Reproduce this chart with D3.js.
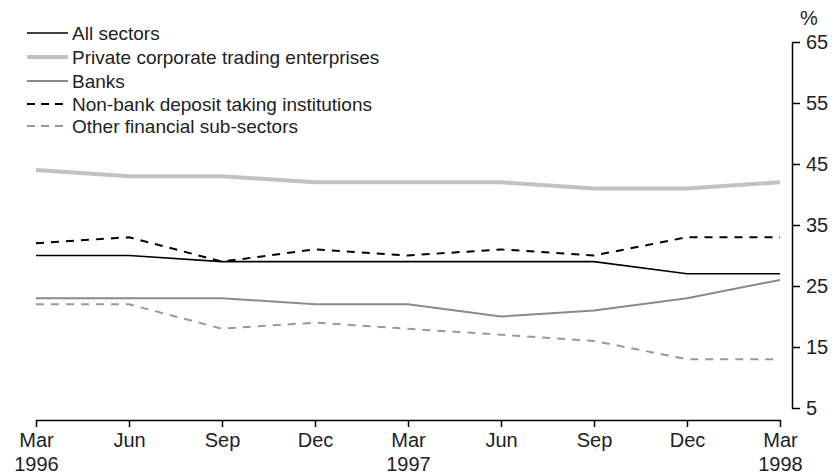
<!DOCTYPE html>
<html>
<head>
<meta charset="utf-8">
<script src="https://cdn.jsdelivr.net/npm/d3@7"></script>
<style>
  body { margin: 0; background: #fff; }
  svg { display: block; font-family: "Liberation Sans", Arial, sans-serif; }
  .axis text { fill: #222; }
  .axis path, .axis line { stroke: #000; stroke-width: 1.5; }
</style>
</head>
<body>
<div id="chart"></div>
<script>
// quarters shown on the x axis
var periods = ["Mar 1996", "Jun 1996", "Sep 1996", "Dec 1996", "Mar 1997",
               "Jun 1997", "Sep 1997", "Dec 1997", "Mar 1998"];

// series values, per cent
var allSectors = [30, 30, 29, 29, 29, 29, 29, 27, 27];
var privateCorp = [44, 43, 43, 42, 42, 42, 41, 41, 42];
var banks = [23, 23, 23, 22, 22, 20, 21, 23, 26];
var nonBank = [32, 33, 29, 31, 30, 31, 30, 33, 33];
var otherFin = [22, 22, 18, 19, 18, 17, 16, 13, 13];

var seriesNames = ["All sectors", "Private corporate trading enterprises", "Banks",
                   "Non-bank deposit taking institutions", "Other financial sub-sectors"];

var yTicks = [5, 15, 25, 35, 45, 55, 65];

var width = 835, height = 474;

// styles for each series, same order as names
var styles = [
    {color: "#000", w: 1.6, dash: null},
    {color: "#c2c2c2", w: 4, dash: null},
    {color: "#8a8a8a", w: 2, dash: null},
    {color: "#000", w: 2, dash: "8,7"},
    {color: "#999", w: 2, dash: "8,7"}
];
var values = [allSectors, privateCorp, banks, nonBank, otherFin];

var svg = d3.select("#chart").append("svg")
    .attr("width", width)
    .attr("height", height);

var x = d3.scalePoint()
    .domain(periods)
    .range([36, 780]);

var y = d3.scaleLinear()
    .domain([5, 65])
    .range([408, 42]);

// x axis
var xAxis = svg.append("g")
    .attr("class", "axis")
    .attr("transform", "translate(0,420)")
    .call(d3.axisBottom(x).tickSize(7).tickSizeOuter(0).tickFormat(function(d){ return ""; }));

xAxis.selectAll(".tick text").each(function(d){
    var parts = d.split(" ");
    var t = d3.select(this)
        .attr("font-size", 20)
        .attr("y", 0)
        .attr("dy", null);
    t.append("tspan").attr("x", 0).attr("y", 27).text(parts[0]);
    if (parts[0] === "Mar") {
        t.append("tspan").attr("x", 0).attr("y", 51).text(parts[1]);
    }
});

// y axis on the right
var yAxis = svg.append("g")
    .attr("class", "axis")
    .attr("transform", "translate(792,0)")
    .call(d3.axisRight(y).tickValues(yTicks).tickSize(8).tickSizeOuter(0).tickPadding(6));

yAxis.selectAll(".tick text").attr("font-size", 20);

svg.append("text")
    .attr("x", 809)
    .attr("y", 25)
    .attr("text-anchor", "middle")
    .attr("font-size", 20)
    .attr("fill", "#222")
    .text("%");

// lines
var line = d3.line()
    .x(function(d, i){ return x(periods[i]); })
    .y(function(d){ return y(d); });

values.forEach(function(v, k){
    var s = styles[k];
    svg.append("path")
        .datum(v)
        .attr("fill", "none")
        .attr("stroke", s.color)
        .attr("stroke-width", s.w)
        .attr("stroke-dasharray", s.dash)
        .attr("d", line);
});

// legend
var legendY = [33, 57, 81, 104, 126];
seriesNames.forEach(function(name, k){
    var s = styles[k];
    var g = svg.append("g").attr("transform", "translate(0," + legendY[k] + ")");
    g.append("line")
        .attr("x1", 27).attr("x2", 68)
        .attr("stroke", s.color)
        .attr("stroke-width", s.w)
        .attr("stroke-dasharray", s.dash ? "8,6" : null);
    g.append("text")
        .attr("x", 72)
        .attr("y", 6.5)
        .attr("font-size", 19)
        .attr("fill", "#222")
        .text(name);
});
</script>
</body>
</html>
